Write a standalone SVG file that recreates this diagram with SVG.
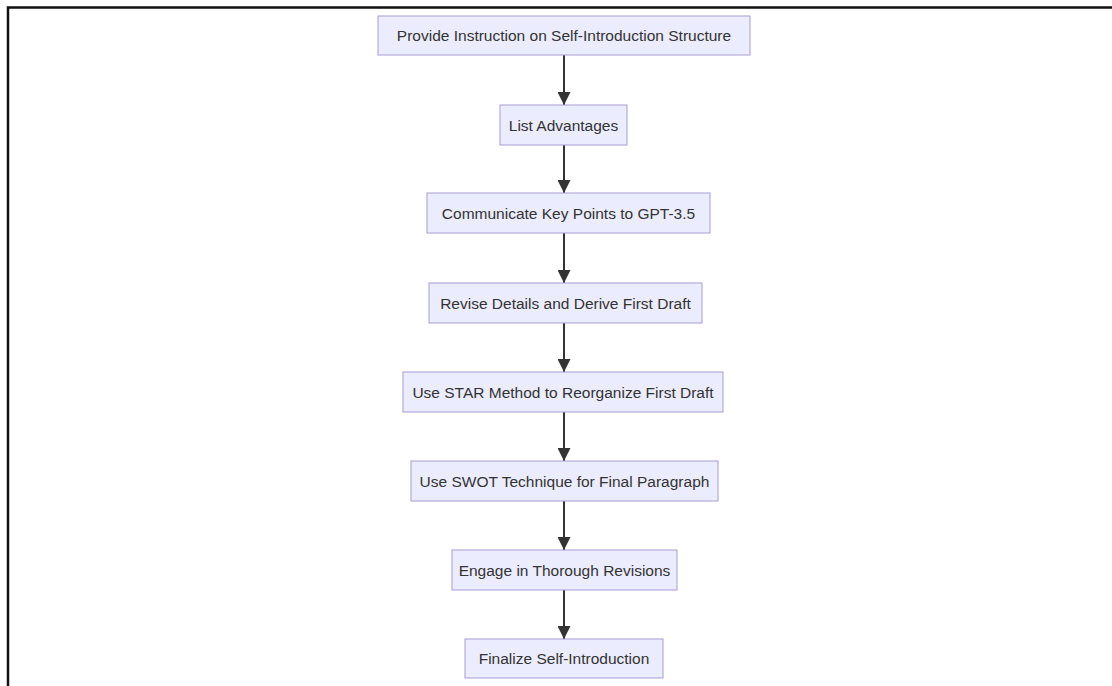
<svg xmlns="http://www.w3.org/2000/svg" width="1112" height="686" viewBox="0 0 1112 686">
<style>
.node rect{fill:#ececff;stroke:#a99bd6;stroke-width:1}
.node text{font-family:"Liberation Sans",Arial,sans-serif;font-size:15.5px;fill:#333;text-anchor:middle;dominant-baseline:central}
.edge{stroke:#333;stroke-width:2;fill:none}
</style>
<defs>
<marker id="arrow" viewBox="0 0 10 10" refX="10" refY="5" markerWidth="6.5" markerHeight="6.5" markerUnits="strokeWidth" orient="auto">
<path d="M0,0 L10,5 L0,10 z" fill="#333"/>
</marker>
</defs>
<rect width="1112" height="686" fill="#fff"/>
<path d="M8,686 L8,7.5 L1112,7.5" fill="none" stroke="#111" stroke-width="2.5"/>
<g id="connectors">
<line class="edge" x1="564" y1="55" x2="564" y2="105" marker-end="url(#arrow)"/>
<line class="edge" x1="564" y1="145" x2="564" y2="193" marker-end="url(#arrow)"/>
<line class="edge" x1="564" y1="233" x2="564" y2="283" marker-end="url(#arrow)"/>
<line class="edge" x1="564" y1="323" x2="564" y2="372" marker-end="url(#arrow)"/>
<line class="edge" x1="564" y1="412" x2="564" y2="461" marker-end="url(#arrow)"/>
<line class="edge" x1="564" y1="501" x2="564" y2="550" marker-end="url(#arrow)"/>
<line class="edge" x1="564" y1="590" x2="564" y2="639" marker-end="url(#arrow)"/>
</g>
<g id="n1" class="node"><rect x="378" y="16" width="372" height="39"/><text x="564" y="35.5">Provide Instruction on Self-Introduction Structure</text></g>
<g id="n2" class="node"><rect x="500" y="105" width="127" height="40"/><text x="563.5" y="125">List Advantages</text></g>
<g id="n3" class="node"><rect x="427" y="193" width="283" height="40"/><text x="568.5" y="213">Communicate Key Points to GPT-3.5</text></g>
<g id="n4" class="node"><rect x="429" y="283" width="273" height="40"/><text x="565.5" y="303">Revise Details and Derive First Draft</text></g>
<g id="n5" class="node"><rect x="403" y="372" width="320" height="40"/><text x="563" y="392">Use STAR Method to Reorganize First Draft</text></g>
<g id="n6" class="node"><rect x="411" y="461" width="307" height="40"/><text x="564.5" y="481">Use SWOT Technique for Final Paragraph</text></g>
<g id="n7" class="node"><rect x="452" y="550" width="225" height="40"/><text x="564.5" y="570">Engage in Thorough Revisions</text></g>
<g id="n8" class="node"><rect x="465" y="639" width="198" height="39"/><text x="564" y="658.5">Finalize Self-Introduction</text></g>
</svg>
